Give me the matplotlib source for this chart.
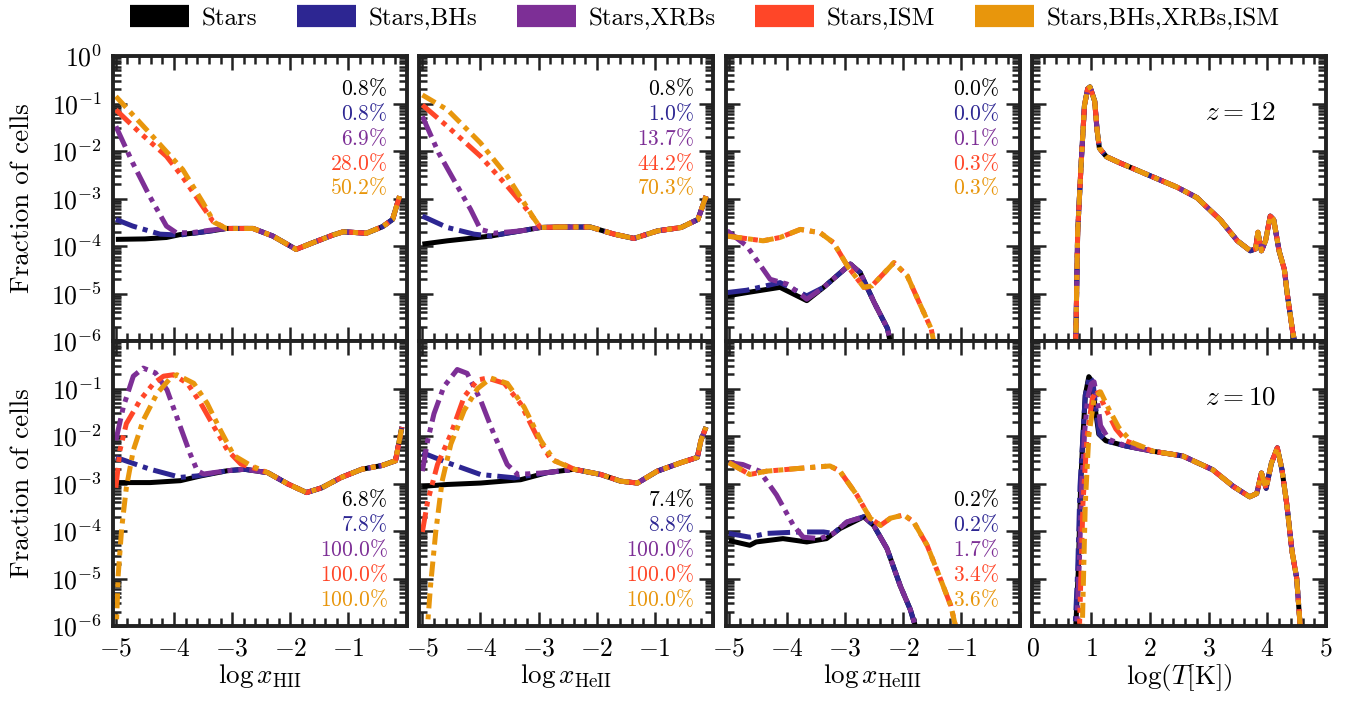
import numpy as np
import matplotlib
matplotlib.use('Agg')
import matplotlib.pyplot as plt
from matplotlib.ticker import MultipleLocator, LogLocator, FuncFormatter, NullFormatter

plt.rcParams['font.family'] = 'serif'
plt.rcParams['font.serif'] = ['cmr10']
plt.rcParams['mathtext.fontset'] = 'cm'
plt.rcParams['axes.unicode_minus'] = False
plt.rcParams['axes.formatter.use_mathtext'] = True

# series
labels = ['Stars', 'Stars,BHs', 'Stars,XRBs', 'Stars,ISM', 'Stars,BHs,XRBs,ISM']
colors = ['#000000', '#2d2692', '#7d2f96', '#ff4628', '#e8960c']
dashes = [None, (4.5, 1.2, 1, 1.2), (4.5, 1.2, 1, 1.2, 1, 1.2),
          (4, 1.2, 1, 1.2, 1, 1.2, 1, 1.2), (3, 1.2, 1, 1.2)]

# ---- z = 12, log x_HII  (values are log10 of the fraction of cells)
hii12_tail_x = [-3.10, -2.64, -2.30, -1.90, -1.61, -1.27, -1.09, -0.69, -0.41, -0.24, -0.12]
hii12_tail_y = [-3.63, -3.63, -3.79, -4.07, -3.93, -3.77, -3.70, -3.73, -3.59, -3.44, -2.95]
hii12_stars_x = [-5.0, -4.5, -4.13, -3.9, -3.6, -3.3]
hii12_stars_y = [-3.86, -3.85, -3.82, -3.76, -3.72, -3.67]
hii12_bhs_x = [-5.0, -4.71, -4.24, -3.9, -3.6, -3.3]
hii12_bhs_y = [-3.44, -3.58, -3.75, -3.77, -3.72, -3.67]
hii12_xrbs_x = [-5.0, -4.71, -4.42, -4.13, -3.96, -3.7, -3.4]
hii12_xrbs_y = [-1.48, -2.25, -2.95, -3.58, -3.72, -3.72, -3.67]
hii12_ism_x = [-5.0, -4.6, -4.13, -3.85, -3.55, -3.33]
hii12_ism_y = [-1.13, -1.6, -2.11, -2.55, -3.09, -3.48]
hii12_all_x = [-5.0, -4.42, -3.85, -3.5, -3.31]
hii12_all_y = [-0.85, -1.62, -2.39, -3.09, -3.50]

# ---- z = 12, log x_HeII
heii12_tail_x = [-2.97, -2.63, -2.11, -1.70, -1.36, -0.95, -0.55, -0.26, -0.12]
heii12_tail_y = [-3.61, -3.60, -3.60, -3.75, -3.84, -3.68, -3.61, -3.44, -2.95]
heii12_stars_x = [-5.0, -4.57, -3.82, -3.55, -3.30]
heii12_stars_y = [-3.96, -3.89, -3.79, -3.73, -3.68]
heii12_bhs_x = [-5.0, -4.57, -4.11, -3.82, -3.55, -3.30]
heii12_bhs_y = [-3.37, -3.61, -3.75, -3.79, -3.73, -3.68]
heii12_xrbs_x = [-5.0, -4.72, -4.43, -4.17, -4.0, -3.77, -3.30]
heii12_xrbs_y = [-1.27, -2.04, -2.67, -3.23, -3.65, -3.73, -3.68]
heii12_ism_x = [-5.0, -4.57, -4.0, -3.54, -3.25, -3.08]
heii12_ism_y = [-1.03, -1.48, -2.11, -2.74, -3.16, -3.42]
heii12_all_x = [-5.0, -4.57, -4.0, -3.54, -3.25, -3.08]
heii12_all_y = [-0.82, -1.13, -1.83, -2.53, -3.09, -3.42]

# ---- z = 12, log x_HeIII
heiii12_tail_x = [-3.37, -2.91, -2.74, -2.50, -2.27, -2.15]
heiii12_tail_y = [-4.87, -4.38, -4.56, -5.19, -5.74, -6.5]
heiii12_stars_x = [-5.03, -4.69, -4.12, -3.66]
heiii12_stars_y = [-5.05, -4.98, -4.87, -5.15]
heiii12_bhs_x = [-5.03, -4.69, -4.12, -3.66]
heiii12_bhs_y = [-4.98, -4.93, -4.77, -5.05]
heiii12_xrbs_x = [-5.03, -4.69, -4.29, -4.0, -3.66]
heiii12_xrbs_y = [-3.68, -4.0, -4.70, -4.80, -5.12]
heiii12_ism_x = [-5.03, -4.41, -4.12, -3.77, -3.43, -3.20, -2.96, -2.68, -2.54, -2.16, -1.93, -1.70, -1.52, -1.40]
heiii12_ism_y = [-3.79, -3.89, -3.82, -3.65, -3.72, -3.93, -4.42, -4.87, -4.84, -4.35, -4.63, -5.26, -5.74, -6.5]

# ---- z = 12, log T
temp12_x = [0.70, 0.74, 0.77, 0.83, 0.886, 0.94, 0.98, 1.06, 1.10, 1.14, 1.26, 1.49, 2.06, 2.46, 2.80,
            3.20, 3.49, 3.71, 3.80, 3.84, 3.90, 3.97, 4.05, 4.11, 4.20, 4.29, 4.34, 4.43, 4.47, 4.50]
temp12_y = [-6.5, -5.87, -3.71, -2.25, -1.04, -0.69, -0.65, -0.95, -1.55, -1.94, -2.12, -2.25, -2.55, -2.76, -2.98,
            -3.45, -3.89, -4.10, -4.06, -3.71, -4.10, -3.89, -3.37, -3.45, -4.10, -4.49, -5.01, -5.79, -6.04, -6.5]

# ---- z = 10, log x_HII
hii10_tail_x = [-2.39, -2.04, -1.72, -1.46, -1.12, -0.77, -0.42, -0.19, -0.08]
hii10_tail_y = [-2.77, -3.01, -3.19, -3.09, -2.87, -2.70, -2.62, -2.52, -1.81]
hii10_stars_x = [-5.0, -4.41, -3.89, -3.54, -3.08, -2.79]
hii10_stars_y = [-2.98, -2.98, -2.94, -2.84, -2.73, -2.70]
hii10_bhs_x = [-5.0, -4.41, -3.89, -3.6, -3.08, -2.79]
hii10_bhs_y = [-2.45, -2.70, -2.87, -2.84, -2.73, -2.70]
hii10_xrbs_x = [-5.0, -4.87, -4.70, -4.53, -4.32, -4.12, -3.89, -3.72, -3.60, -3.49, -3.08, -2.79]
hii10_xrbs_y = [-2.09, -1.38, -0.74, -0.57, -0.67, -1.03, -1.81, -2.38, -2.73, -2.80, -2.73, -2.70]
hii10_ism_x = [-5.0, -4.93, -4.82, -4.58, -4.35, -4.18, -4.01, -3.77, -3.54, -3.31, -3.08, -2.85, -2.56]
hii10_ism_y = [-3.09, -2.30, -1.74, -1.24, -0.89, -0.74, -0.71, -0.89, -1.31, -1.81, -2.30, -2.59, -2.70]
hii10_all_x = [-5.0, -4.96, -4.90, -4.82, -4.70, -4.53, -4.29, -4.06, -3.95, -3.66, -3.43, -3.20, -2.97, -2.68]
hii10_all_y = [-6.3, -4.93, -3.94, -3.09, -2.30, -1.67, -1.10, -0.78, -0.71, -0.89, -1.31, -1.88, -2.41, -2.62]

# ---- z = 10, log x_HeII
heii10_tail_x = [-2.39, -1.93, -1.59, -1.30, -0.96, -0.55, -0.27, -0.21, -0.12]
heii10_tail_y = [-2.70, -2.81, -2.95, -2.99, -2.74, -2.56, -2.45, -2.10, -1.81]
heii10_stars_x = [-5.0, -4.57, -4.0, -3.31, -2.85]
heii10_stars_y = [-3.06, -3.02, -2.99, -2.92, -2.77]
heii10_bhs_x = [-5.0, -4.57, -4.0, -3.42, -2.85]
heii10_bhs_y = [-2.35, -2.56, -2.81, -2.88, -2.77]
heii10_xrbs_x = [-5.0, -4.91, -4.80, -4.63, -4.40, -4.23, -4.0, -3.77, -3.54, -3.36, -2.85]
heii10_xrbs_y = [-2.74, -2.10, -1.53, -0.96, -0.60, -0.68, -1.24, -1.96, -2.60, -2.81, -2.77]
heii10_ism_x = [-5.0, -4.91, -4.74, -4.51, -4.28, -4.05, -3.88, -3.59, -3.31, -3.02, -2.79, -2.56]
heii10_ism_y = [-4.02, -3.38, -2.60, -1.96, -1.17, -0.82, -0.78, -0.89, -1.32, -2.03, -2.49, -2.60]
heii10_all_x = [-4.93, -4.86, -4.77, -4.66, -4.51, -4.28, -4.05, -3.82, -3.54, -3.25, -2.96, -2.73]
heii10_all_y = [-6.3, -5.16, -4.02, -2.95, -2.17, -1.46, -1.0, -0.78, -0.89, -1.39, -2.10, -2.52]

# ---- z = 10, log x_HeIII
heiii10_tail_x = [-2.68, -2.51, -2.28, -2.05, -1.88, -1.79, -1.72]
heiii10_tail_y = [-3.70, -3.88, -4.37, -5.16, -5.65, -6.01, -6.5]
heiii10_stars_x = [-5.0, -4.64, -4.53, -4.07, -3.66, -3.32, -3.09]
heiii10_stars_y = [-4.20, -4.30, -4.23, -4.16, -4.23, -4.16, -3.95]
heiii10_bhs_x = [-5.0, -4.64, -4.35, -3.78, -3.37, -3.20, -2.97]
heiii10_bhs_y = [-4.05, -4.13, -4.05, -4.02, -4.02, -4.05, -3.81]
heiii10_xrbs_x = [-5.0, -4.76, -4.47, -4.18, -3.89, -3.72, -3.43, -3.20, -2.97]
heiii10_xrbs_y = [-2.56, -2.60, -2.74, -3.24, -3.88, -4.13, -4.16, -4.05, -3.81]
heiii10_ism_x = [-5.0, -4.64, -4.35, -3.78, -3.26, -3.09, -2.80, -2.57, -2.39, -2.22, -1.99, -1.82,
                 -1.59, -1.36, -1.18, -1.10, -1.0]
heiii10_ism_y = [-2.56, -2.81, -2.74, -2.68, -2.63, -2.74, -3.24, -3.73, -3.88, -3.73, -3.66, -3.81,
                 -4.30, -5.01, -5.58, -6.01, -6.5]

# ---- z = 10, log T
temp10_tail_x = [2.05, 2.56, 3.07, 3.42, 3.70, 3.82, 3.90, 3.98, 4.07, 4.17, 4.25, 4.33, 4.42, 4.50, 4.56, 4.60]
temp10_tail_y = [-2.32, -2.42, -2.71, -3.06, -3.28, -3.21, -2.78, -3.10, -2.57, -2.25, -2.71, -3.42, -4.42,
                 -4.99, -6.0, -6.5]
temp10_stars_x = [0.72, 0.78, 0.82, 0.86, 0.90, 0.96, 1.02, 1.07, 1.13, 1.25, 1.59]
temp10_stars_y = [-6.5, -4.85, -3.06, -2.0, -1.14, -0.75, -0.86, -1.43, -1.96, -2.10, -2.21]
temp10_bhs_x = [0.71, 0.77, 0.81, 0.86, 0.90, 0.97, 1.03, 1.08, 1.14, 1.25, 1.59]
temp10_bhs_y = [-6.5, -4.85, -3.06, -2.0, -1.14, -0.75, -0.86, -1.43, -1.96, -2.10, -2.21]
temp10_xrbs_x = [0.74, 0.80, 0.84, 0.89, 0.94, 1.0, 1.05, 1.10, 1.16, 1.30, 1.59]
temp10_xrbs_y = [-6.5, -4.6, -3.0, -1.9, -1.2, -0.9, -0.86, -1.2, -1.78, -2.07, -2.21]
temp10_ism_x = [0.79, 0.86, 0.93, 1.02, 1.10, 1.25, 1.42, 1.59, 1.82]
temp10_ism_y = [-6.5, -3.42, -2.0, -1.21, -1.03, -1.43, -1.85, -2.10, -2.21]
temp10_all_x = [0.84, 0.90, 0.96, 1.05, 1.16, 1.30, 1.47, 1.70, 1.93]
temp10_all_y = [-6.5, -3.42, -2.0, -1.21, -1.07, -1.43, -1.82, -2.14, -2.25]

# percentages of cells written in each panel
pct_z12 = [['0.8', '0.8', '6.9', '28.0', '50.2'],
           ['0.8', '1.0', '13.7', '44.2', '70.3'],
           ['0.0', '0.0', '0.1', '0.3', '0.3']]
pct_z10 = [['6.8', '7.8', '100.0', '100.0', '100.0'],
           ['7.4', '8.8', '100.0', '100.0', '100.0'],
           ['0.2', '0.2', '1.7', '3.4', '3.6']]
redshifts = ['12', '10']
xlabels = [r'$\log x_{\rm HII}$', r'$\log x_{\rm HeII}$', r'$\log x_{\rm HeIII}$', r'$\log(T[{\rm K}])$']


def j(hx, hy, tx, ty):
    return hx + tx, hy + ty


panels = [
    [j(hii12_stars_x, hii12_stars_y, hii12_tail_x, hii12_tail_y),
     j(hii12_bhs_x, hii12_bhs_y, hii12_tail_x, hii12_tail_y),
     j(hii12_xrbs_x, hii12_xrbs_y, hii12_tail_x, hii12_tail_y),
     j(hii12_ism_x, hii12_ism_y, hii12_tail_x, hii12_tail_y),
     j(hii12_all_x, hii12_all_y, hii12_tail_x, hii12_tail_y)],
    [j(heii12_stars_x, heii12_stars_y, heii12_tail_x, heii12_tail_y),
     j(heii12_bhs_x, heii12_bhs_y, heii12_tail_x, heii12_tail_y),
     j(heii12_xrbs_x, heii12_xrbs_y, heii12_tail_x, heii12_tail_y),
     j(heii12_ism_x, heii12_ism_y, heii12_tail_x, heii12_tail_y),
     j(heii12_all_x, heii12_all_y, heii12_tail_x, heii12_tail_y)],
    [j(heiii12_stars_x, heiii12_stars_y, heiii12_tail_x, heiii12_tail_y),
     j(heiii12_bhs_x, heiii12_bhs_y, heiii12_tail_x, heiii12_tail_y),
     j(heiii12_xrbs_x, heiii12_xrbs_y, heiii12_tail_x, heiii12_tail_y),
     (heiii12_ism_x, heiii12_ism_y),
     (heiii12_ism_x, heiii12_ism_y)],
    [(temp12_x, temp12_y)] * 5,
    [j(hii10_stars_x, hii10_stars_y, hii10_tail_x, hii10_tail_y),
     j(hii10_bhs_x, hii10_bhs_y, hii10_tail_x, hii10_tail_y),
     j(hii10_xrbs_x, hii10_xrbs_y, hii10_tail_x, hii10_tail_y),
     j(hii10_ism_x, hii10_ism_y, hii10_tail_x, hii10_tail_y),
     j(hii10_all_x, hii10_all_y, hii10_tail_x, hii10_tail_y)],
    [j(heii10_stars_x, heii10_stars_y, heii10_tail_x, heii10_tail_y),
     j(heii10_bhs_x, heii10_bhs_y, heii10_tail_x, heii10_tail_y),
     j(heii10_xrbs_x, heii10_xrbs_y, heii10_tail_x, heii10_tail_y),
     j(heii10_ism_x, heii10_ism_y, heii10_tail_x, heii10_tail_y),
     j(heii10_all_x, heii10_all_y, heii10_tail_x, heii10_tail_y)],
    [j(heiii10_stars_x, heiii10_stars_y, heiii10_tail_x, heiii10_tail_y),
     j(heiii10_bhs_x, heiii10_bhs_y, heiii10_tail_x, heiii10_tail_y),
     j(heiii10_xrbs_x, heiii10_xrbs_y, heiii10_tail_x, heiii10_tail_y),
     (heiii10_ism_x, heiii10_ism_y),
     (heiii10_ism_x, heiii10_ism_y)],
    [j(temp10_stars_x, temp10_stars_y, temp10_tail_x, temp10_tail_y),
     j(temp10_bhs_x, temp10_bhs_y, temp10_tail_x, temp10_tail_y),
     j(temp10_xrbs_x, temp10_xrbs_y, temp10_tail_x, temp10_tail_y),
     j(temp10_ism_x, temp10_ism_y, temp10_tail_x, temp10_tail_y),
     j(temp10_all_x, temp10_all_y, temp10_tail_x, temp10_tail_y)],
]

fig, axes = plt.subplots(2, 4, figsize=(13.48, 7.03), dpi=100)
fig.subplots_adjust(left=0.0838, right=0.9837, top=0.9203, bottom=0.1095, wspace=0.044, hspace=0)

frame_col = '#222222'


def ylab(v, pos, skip_top):
    if skip_top and v > 0.5:
        return ''
    return r'$10^{%d}$' % round(np.log10(v))


for r in range(2):
    for c in range(4):
        ax = axes[r, c]
        curves = panels[r * 4 + c]
        for k, (xs, ys) in enumerate(curves):
            ln, = ax.plot(xs, 10.0 ** np.array(ys), color=colors[k], lw=3.6, label=labels[k],
                          dash_capstyle='butt', solid_capstyle='butt')
            if dashes[k] is not None:
                ln.set_dashes(dashes[k])

        ax.set_yscale('log')
        ax.set_ylim(1e-6, 1.0)
        ax.yaxis.set_major_locator(LogLocator(base=10, numticks=10))
        ax.yaxis.set_minor_locator(LogLocator(base=10, subs=np.arange(2, 10), numticks=20))
        ax.yaxis.set_minor_formatter(NullFormatter())
        if c == 0:
            ax.yaxis.set_major_formatter(FuncFormatter(lambda v, p, s=(r == 1): ylab(v, p, s)))
            ax.set_ylabel('Fraction of cells', fontsize=19.5)
            ax.yaxis.set_label_coords(-0.27, 0.5)
        else:
            ax.tick_params(axis='y', which='both', labelleft=False)

        if c < 3:
            ax.set_xlim(-5.05, 0.0)
            ax.xaxis.set_major_formatter(FuncFormatter(lambda v, p: '' if v > -0.5 else r'$%d$' % round(v)))
        else:
            ax.set_xlim(0, 5)
            ax.xaxis.set_major_formatter(FuncFormatter(lambda v, p: r'$%d$' % round(v)))
        ax.xaxis.set_major_locator(MultipleLocator(1))
        ax.xaxis.set_minor_locator(MultipleLocator(0.2))

        if r == 0:
            ax.tick_params(axis='x', which='both', labelbottom=False)
        else:
            ax.set_xlabel(xlabels[c], fontsize=19.5)
            ax.xaxis.set_label_coords(0.5, -0.125)

        ax.tick_params(which='both', direction='in', top=True, right=True, color=frame_col,
                       width=1.8, labelsize=18.5, pad=8)
        ax.tick_params(which='major', length=10)
        ax.tick_params(which='minor', length=5.5)
        for sp in ax.spines.values():
            sp.set_linewidth(2.8)
            sp.set_color(frame_col)

        if c < 3:
            pcts = pct_z12[c] if r == 0 else pct_z10[c]
            y0 = 0.888 if r == 0 else 0.444
            xr = 0.935 if c < 2 else 0.93
            for k, s in enumerate(pcts):
                ax.text(xr, y0 - k * 0.0875, r'$%s\%%$' % s, transform=ax.transAxes,
                        ha='right', va='center', color=colors[k], fontsize=15.5)
        else:
            ax.text(0.71, 0.80, r'$z = %s$' % redshifts[r], transform=ax.transAxes,
                    ha='center', va='center', fontsize=19.5)

handles, labs = axes[0, 0].get_legend_handles_labels()
leg = fig.legend(handles, labs, loc='center left', bbox_to_anchor=(130 / 1348, 0.973), ncol=5,
                 frameon=False, fontsize=18, handlelength=2.35, handletextpad=0.5,
                 columnspacing=1.6, borderpad=0, borderaxespad=0)
for h in leg.legend_handles:
    h.set_linewidth(16)

fig.savefig('out.png', dpi=100)
